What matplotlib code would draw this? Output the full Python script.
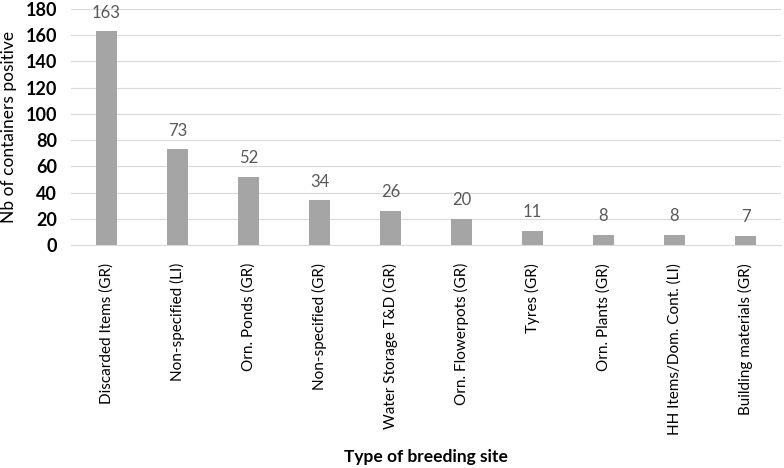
import numpy as np
import matplotlib.pyplot as plt

plt.rcParams['font.family'] = ['Lato', 'DejaVu Sans']

sites = ["Discarded Items (GR)", "Non-specified (LI)", "Orn. Ponds (GR)",
         "Non-specified (GR)", "Water Storage T&D (GR)", "Orn. Flowerpots (GR)",
         "Tyres (GR)", "Orn. Plants (GR)", "HH Items/Dom. Cont. (LI)",
         "Building materials (GR)"]
counts = [163, 73, 52, 34, 26, 20, 11, 8, 8, 7]

fig = plt.figure(figsize=(7.84, 4.68), dpi=100)
ax = fig.add_axes([71 / 784, 1 - 245 / 468, 710 / 784, 236 / 468])

x = np.arange(len(sites))
bars = ax.bar(x, counts, width=0.3, color="#a5a5a5", zorder=2)
for xi, v in zip(x, counts):
    ax.text(xi, v + 8, str(v), ha="center", va="bottom", fontsize=12, color="#595959")

ax.set_xlim(-0.5, len(sites) - 0.5)
ax.set_ylim(0, 180)
ax.set_yticks(np.arange(0, 181, 20))
ax.yaxis.grid(True, color="#d9d9d9", linewidth=0.8, zorder=0)
ax.set_axisbelow(True)
for s in ["top", "right", "left"]:
    ax.spines[s].set_visible(False)
ax.spines["bottom"].set_color("#d9d9d9")
ax.tick_params(axis="both", length=0)
ax.tick_params(axis="y", pad=10, labelsize=13)
for lab in ax.get_yticklabels():
    lab.set_fontweight("bold")
ax.set_xticks(x)
ax.set_xticklabels(sites, rotation=90, fontsize=11)
ax.tick_params(axis="x", pad=13)

ax.set_ylabel("Nb of containers positive", fontsize=12.5, labelpad=6)
ax.set_xlabel("Type of breeding site", fontsize=12.5, fontweight="bold", labelpad=10)

fig.savefig("out.png", dpi=100)
